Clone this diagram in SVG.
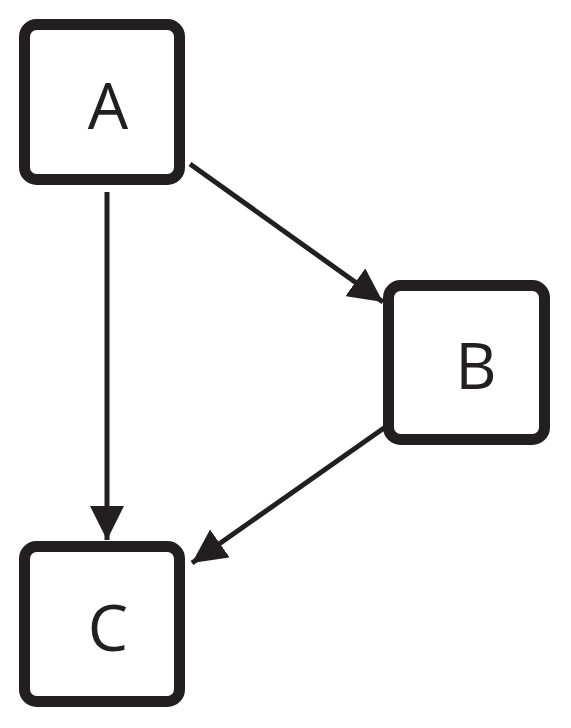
<svg xmlns="http://www.w3.org/2000/svg" width="571" height="728" viewBox="0 0 571 728">
<style>
.box{fill:#fff;stroke:#231f20;stroke-width:11}
.lbl{font-family:"Open Sans","Noto Sans",sans-serif;font-size:64px;fill:#231f20;text-anchor:middle}
.edge{stroke:#231f20;stroke-width:5;fill:none}
</style>
<defs>
<marker id="ah" markerUnits="userSpaceOnUse" markerWidth="34" markerHeight="34" viewBox="0 0 32 32" refX="32" refY="16" orient="auto">
<path d="M0,0 L32,16 L0,32 Z" fill="#231f20"/>
</marker>
</defs>
<rect width="571" height="728" fill="#fff"/>
<g id="connectors">
<line class="edge" x1="107" y1="192" x2="107" y2="540" marker-end="url(#ah)"/>
<line class="edge" x1="190" y1="164" x2="383" y2="302" marker-end="url(#ah)"/>
<line class="edge" x1="384" y1="428" x2="192" y2="563" marker-end="url(#ah)"/>
</g>
<g id="node-A">
<rect class="box" x="24.5" y="24.5" width="155" height="155" rx="12"/>
<text class="lbl" x="108" y="129">A</text>
</g>
<g id="node-B">
<rect class="box" x="388.5" y="285.5" width="156" height="154" rx="12"/>
<text class="lbl" x="476" y="389">B</text>
</g>
<g id="node-C">
<rect class="box" x="24.5" y="546.5" width="155" height="155" rx="12"/>
<text class="lbl" x="108" y="651">C</text>
</g>
</svg>
